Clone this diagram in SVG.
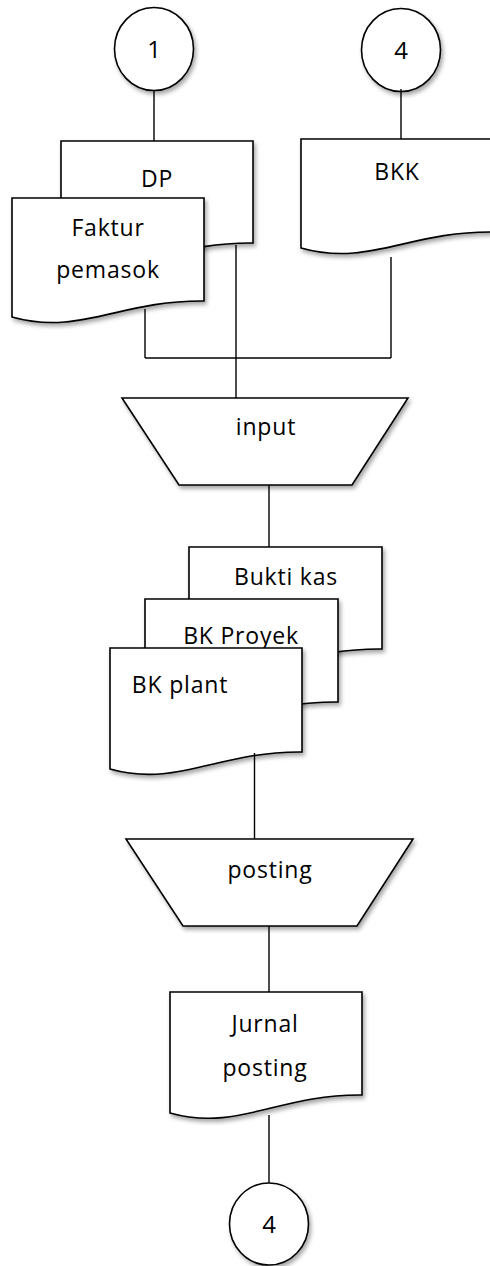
<svg xmlns="http://www.w3.org/2000/svg" width="490" height="1266" viewBox="0 0 490 1266">
  <style>
    .shape { fill: #ffffff; stroke: #000000; stroke-width: 1.6; filter: url(#shadow); }
    .conn { fill: none; stroke: #000000; stroke-width: 1.4; }
    .label { font-family: "Open Sans", "Noto Sans", sans-serif; font-size: 23px; letter-spacing: 0.8px; fill: #000000; text-anchor: middle; }
    .num { font-family: "Open Sans", "Noto Sans", sans-serif; font-size: 24px; fill: #000000; text-anchor: middle; }
  </style>
  <defs>
    <filter id="shadow" x="-10%" y="-10%" width="125%" height="130%">
      <feDropShadow dx="2" dy="3" stdDeviation="2" flood-color="#000000" flood-opacity="0.35"/>
    </filter>
  </defs>
  <rect width="490" height="1266" fill="#ffffff"/>

  <!-- off-page connectors at the top -->
  <g id="conn-1">
    <ellipse class="shape" cx="154" cy="49" rx="39.5" ry="41.5"/>
    <text class="num" x="154" y="58">1</text>
  </g>
  <g id="conn-4-top">
    <ellipse class="shape" cx="401" cy="50" rx="39.5" ry="41.5"/>
    <text class="num" x="401" y="59">4</text>
  </g>

  <!-- source documents -->
  <g id="doc-dp">
    <path class="shape" d="M61,141 H253 V243 C169,242 129,278 61,259 Z"/>
    <text class="label" x="157" y="187">DP</text>
  </g>
  <g id="doc-faktur">
    <path class="shape" d="M12,198 H204 V301 C120,300 80,336 12,317 Z"/>
    <text class="label" x="108" y="236">Faktur</text>
    <text class="label" x="108" y="278">pemasok</text>
  </g>
  <g id="doc-bkk">
    <path class="shape" d="M301,139 H493 V232 C409,231 369,267 301,248 Z"/>
    <text class="label" x="397" y="180">BKK</text>
  </g>

  <!-- manual input operation -->
  <g id="op-input">
    <path class="shape" d="M122,398 H408 L352,485 H179 Z"/>
    <text class="label" x="266" y="435">input</text>
  </g>

  <!-- stacked output documents -->
  <g id="doc-bukti-kas">
    <path class="shape" d="M189,547 H382 V649 C297,648 257,684 189,665 Z"/>
    <text class="label" x="286" y="585">Bukti kas</text>
  </g>
  <g id="doc-bk-proyek">
    <path class="shape" d="M145,599 H338 V702 C253,701 213,737 145,718 Z"/>
    <text class="label" x="241" y="644">BK Proyek</text>
  </g>
  <g id="doc-bk-plant">
    <path class="shape" d="M110,648 H302 V752 C218,751 178,788 110,769 Z"/>
    <text class="label" x="180" y="693">BK plant</text>
  </g>

  <!-- posting operation -->
  <g id="op-posting">
    <path class="shape" d="M126,839 H413 L357,926 H183 Z"/>
    <text class="label" x="270" y="878">posting</text>
  </g>

  <!-- journal document -->
  <g id="doc-jurnal">
    <path class="shape" d="M170,992 H362 V1095 C278,1094 238,1132 170,1113 Z"/>
    <text class="label" x="265" y="1032">Jurnal</text>
    <text class="label" x="265" y="1076">posting</text>
  </g>

  <!-- off-page connector at the bottom -->
  <g id="conn-4-bottom">
    <ellipse class="shape" cx="269" cy="1224" rx="39.5" ry="41"/>
    <text class="num" x="269" y="1233">4</text>
  </g>

  <!-- flow lines -->
  <g id="connectors">
    <line class="conn" x1="154" y1="90.5" x2="154" y2="141"/>
    <line class="conn" x1="401" y1="89" x2="401" y2="139"/>
    <line class="conn" x1="145" y1="309" x2="145" y2="358"/>
    <line class="conn" x1="391" y1="257" x2="391" y2="358"/>
    <line class="conn" x1="145" y1="358" x2="391" y2="358"/>
    <line class="conn" x1="236" y1="245" x2="236" y2="398"/>
    <line class="conn" x1="269" y1="485" x2="269" y2="547"/>
    <line class="conn" x1="254.5" y1="753" x2="254.5" y2="839"/>
    <line class="conn" x1="269" y1="926" x2="269" y2="992"/>
    <line class="conn" x1="269" y1="1115" x2="269" y2="1183"/>
  </g>
</svg>
